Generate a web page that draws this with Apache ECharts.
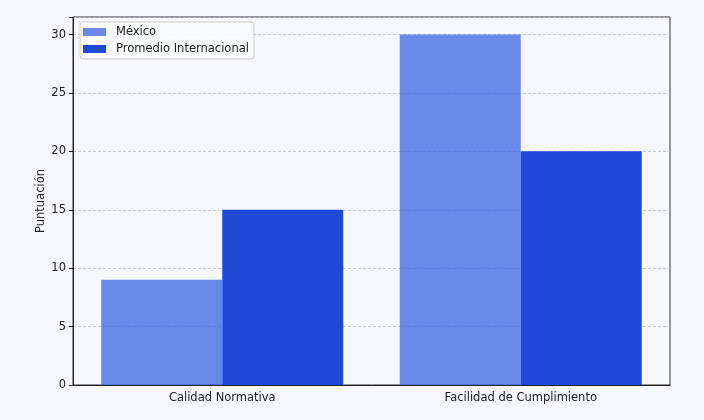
<!DOCTYPE html>
<html><head><meta charset="utf-8">
<script src="https://cdn.jsdelivr.net/npm/echarts@6/dist/echarts.min.js"></script>
<style>html,body{margin:0;padding:0;background:#f5f8fe;}#c{width:704px;height:420px;}</style>
</head><body><div id="c"></div>
<script>
const categories = ['Calidad Normativa', 'Facilidad de Cumplimiento'];
const mexico = [9, 30];
const promedio = [15, 20];
const seriesNames = ['México', 'Promedio Internacional'];

const chart = echarts.init(document.getElementById('c'), null, {renderer: 'canvas'});
const font = 'DejaVu Sans';
chart.setOption({
  backgroundColor: '#f5f8fe',
  animation: false,
  textStyle: {fontFamily: font},
  grid: {left: 73, right: 34, top: 17, bottom: 35, show: true, borderColor: '#333', borderWidth: 1, backgroundColor: 'transparent'},
  legend: {
    left: 80, top: 22, orient: 'vertical', itemWidth: 23, itemHeight: 8, itemGap: 3,
    padding: [3, 5, 3, 3], borderColor: '#cccccc', borderWidth: 1, borderRadius: 3,
    backgroundColor: 'rgba(250,251,255,0.9)',
    textStyle: {fontFamily: font, fontSize: 11.5, color: '#222', padding: [0, 0, 0, 5], lineHeight: 14},
    data: seriesNames.map(n => ({name: n, icon: 'rect'}))
  },
  xAxis: {
    type: 'category', data: categories,
    axisLine: {lineStyle: {color: '#222'}},
    axisTick: {alignWithLabel: true, length: 4, lineStyle: {color: '#222'}},
    axisLabel: {fontFamily: font, fontSize: 11.5, color: '#222', margin: 7}
  },
  yAxis: {
    type: 'value', min: 0, max: 31.5, interval: 5,
    name: 'Puntuación', nameLocation: 'middle', nameGap: 26, nameRotate: 90, nameMoveOverlap: false,
    nameTextStyle: {fontFamily: font, fontSize: 11.5, color: '#222'},
    axisLine: {show: true, lineStyle: {color: '#222'}},
    axisTick: {show: true, length: 4, lineStyle: {color: '#222'}},
    axisLabel: {fontFamily: font, fontSize: 11.5, color: '#222', margin: 7,
      formatter: v => (v % 5 === 0 ? String(v) : '')},
    splitLine: {show: true, lineStyle: {color: '#b8bfd4', type: [3, 2], width: 0.8}}
  },
  series: [
    {name: seriesNames[0], type: 'bar', data: mexico, barWidth: 121, barGap: '0%',
     itemStyle: {color: 'rgba(65,105,225,0.78)'}},
    {name: seriesNames[1], type: 'bar', data: promedio, barWidth: 121,
     itemStyle: {color: '#1f4ad6'}}
  ]
});
</script></body></html>
